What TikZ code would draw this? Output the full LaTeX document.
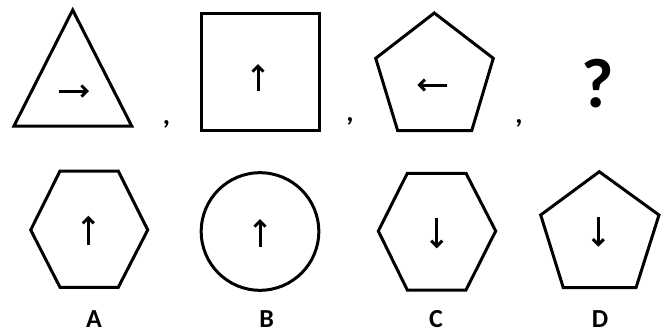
\documentclass[tikz,border=0pt]{standalone}
\usepackage{fontspec}
\setmainfont{Carlito}
\usetikzlibrary{arrows.meta}
\begin{document}
\begin{tikzpicture}[x=1pt,y=-1pt,
  outl/.style={line width=3pt,line join=miter},
  dir/.style={line width=3pt,-{Straight Barb[length=5.5pt,width=11pt,line width=3pt]}},
  lbl/.style={font=\fontsize{26}{26}\selectfont\bfseries,inner sep=0pt,anchor=base},
  sep/.style={font=\fontsize{28}{28}\selectfont\bfseries,inner sep=0pt}]
\useasboundingbox (0,0) rectangle (667,335);
% row 1
\draw[outl] (72.7,10) -- (131.7,126) -- (14,126) -- cycle;
\draw[dir] (59,91) -- (89,91);
\node[sep] (c1) at (166.5,124) {,};
\draw[outl] (201,13) rectangle (319,130);
\draw[dir] (258,91) -- (258,64);
\node[sep] (c2) at (350,121) {,};
\draw[outl] (434.3,13) -- (493.3,58.3) -- (471.7,130.7) -- (397.7,130.7) -- (375.7,58.3) -- cycle;
\draw[dir] (447.3,85) -- (417.3,85);
\node[sep] (c3) at (519,123) {,};
\node[font=\fontsize{70}{70}\selectfont\bfseries,inner sep=0pt] (q) at (598,83.5) {?};
% row 2
\draw[outl] (60,171) -- (118.3,171) -- (147.7,230) -- (118.3,287.3) -- (60,287.3) -- (30.7,230) -- cycle;
\draw[dir] (88.3,245) -- (88.3,215.7);
\draw[outl] (260,231.5) circle (58.8);
\draw[dir] (260,247) -- (260,219);
\draw[outl] (407.3,173.3) -- (466,173.3) -- (495.7,231) -- (466,290) -- (407.3,290) -- (378.3,231) -- cycle;
\draw[dir] (436.7,218.3) -- (436.7,248.3);
\draw[outl] (599.3,171.7) -- (659,215) -- (636,287.7) -- (563.3,287.7) -- (540.7,215) -- cycle;
\draw[dir] (598.3,216.7) -- (598.3,246.7);
\node[lbl] (la) at (94,327) {A};
\node[lbl] (lb) at (266.7,327) {B};
\node[lbl] (lc) at (436,327) {C};
\node[lbl] (ld) at (600,327) {D};
\end{tikzpicture}
\end{document}
